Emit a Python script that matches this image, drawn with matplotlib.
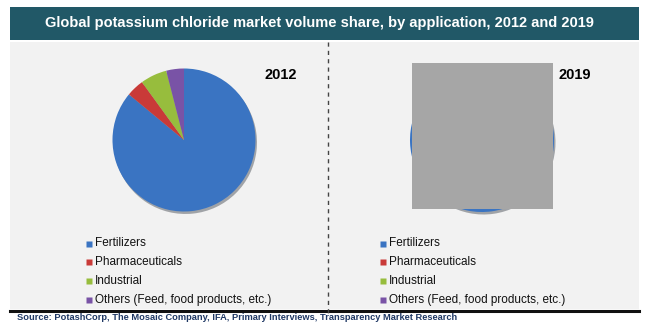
import matplotlib.pyplot as plt
from matplotlib.patches import Rectangle

plt.rcParams['font.family'] = ['Liberation Sans', 'DejaVu Sans']

# Data (share of volume, %)
applications = ['Fertilizers', 'Pharmaceuticals', 'Industrial', 'Others (Feed, food products, etc.)']
share_2012 = [86, 4, 6, 4]
share_2019 = [85, 4, 7, 4]
years = ['2012', '2019']
colors = ['#3a74c2', '#c93a38', '#97bd3d', '#7953a6']

title = 'Global potassium chloride market volume share, by application, 2012 and 2019'
source = 'Source: PotashCorp, The Mosaic Company, IFA, Primary Interviews, Transparency Market Research'

W, H = 650, 332
fig = plt.figure(figsize=(W / 100, H / 100), dpi=100)
fig.patch.set_facecolor('white')

# background canvas in pixel coordinates
bg = fig.add_axes([0, 0, 1, 1])
bg.set_xlim(0, W)
bg.set_ylim(H, 0)
bg.axis('off')

bg.add_patch(Rectangle((10, 7), 629, 33, facecolor='#215867', edgecolor='none'))
bg.add_patch(Rectangle((10, 42), 629, 267, facecolor='#f2f2f2', edgecolor='none'))
bg.plot([10, 639], [310.5, 310.5], color='#111111', lw=2.2)
bg.plot([328, 328], [42, 316], color='#444444', lw=1, ls=(0, (3, 3)))

bg.text(319, 23.5, title, color='white', fontsize=10.5, fontweight='bold',
        ha='center', va='center')
bg.text(17, 318, source, color='#1f3864', fontsize=6.7, fontweight='bold',
        ha='left', va='center')

# legends
legend_x = [89, 383]
legend_y = [243.5, 262, 281, 300]
for lx in legend_x:
    for name, c, ly in zip(applications, colors, legend_y):
        bg.plot(lx, ly, marker='s', ms=4.5, color=c, mec='none')
        bg.text(lx + 6, ly, name, fontsize=8.5, color='#111111', ha='left', va='center')

# year labels
bg.text(281, 75, years[0], fontsize=10.5, fontweight='bold', ha='center', va='center')
bg.text(575, 75, years[1], fontsize=10.5, fontweight='bold', ha='center', va='center')

# pies
def pie_axes(cx, cy, r):
    return fig.add_axes([(cx - r) / W, (H - cy - r) / H, 2 * r / W, 2 * r / H])

shadow = dict(ox=0.015, oy=-0.025, shade=0.85, alpha=0.35)
for (cx, cy, r), vals in zip([(184, 140, 71.5), (482, 140, 72)], [share_2012, share_2019]):
    ax = pie_axes(cx, cy, r)
    ax.pie(vals, colors=colors, startangle=90, counterclock=False, radius=1,
           wedgeprops=dict(linewidth=0), shadow=shadow)
    ax.set_xlim(-1, 1)
    ax.set_ylim(-1, 1)
    ax.set_aspect('equal')
    ax.axis('off')

# grey box covering the 2019 pie
fig.add_artist(Rectangle((412 / W, (H - 209) / H), 141 / W, 146 / H,
                         transform=fig.transFigure, facecolor='#a6a6a6',
                         edgecolor='none', zorder=10))

fig.savefig('out.png', dpi=100)
